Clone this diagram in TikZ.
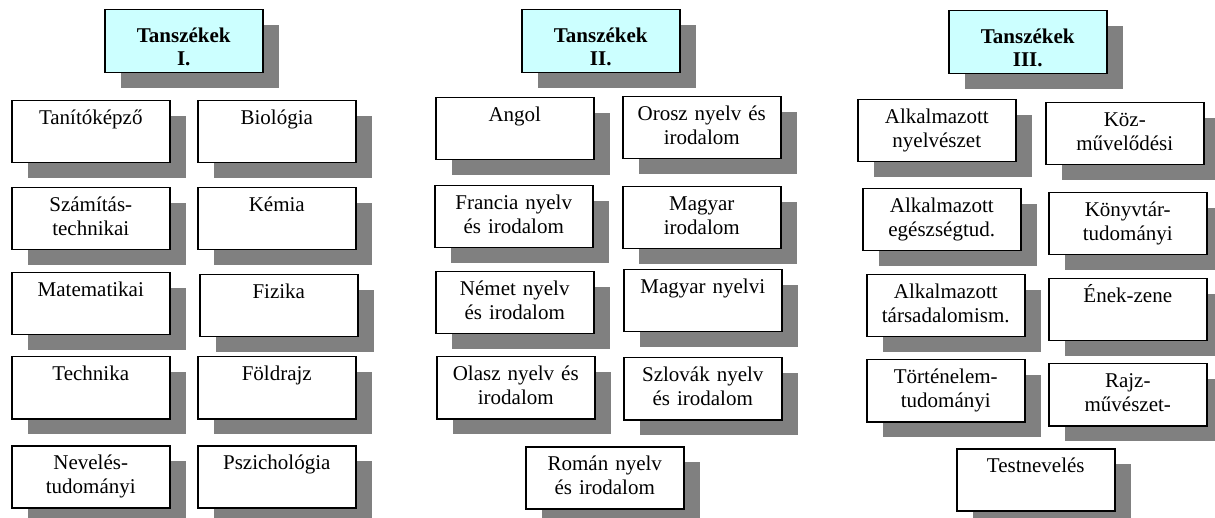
\documentclass[tikz,border=0pt]{standalone}
\usepackage{fontspec}
\setmainfont{Liberation Serif}
\usetikzlibrary{shadows}
\definecolor{headcyan}{RGB}{204,255,255}
\begin{document}
\begin{tikzpicture}[x=1pt,y=-1pt,
		every node/.style={font=\fontsize{21}{24}\selectfont},
		box/.style={draw,line width=1.5pt,fill=white,anchor=north west,inner sep=0pt,
				text width=158pt,align=center,text height=24pt,text depth=38pt,
				drop shadow={shadow xshift=16pt,shadow yshift=-15pt,fill=gray,opacity=1}},
		head/.style={box,fill=headcyan,font=\fontsize{21}{23}\selectfont\bfseries,
				text height=33pt,text depth=30pt}]
		\useasboundingbox[fill=white] (0,0) rectangle (1215,518);

		% Tanszekek I.
		\node[head] (T1) at (104,9) {Tanszékek\\I.};
		\foreach \x/\y/\n/\t in {11/100/tan/{Tanítóképző}, 197/100/bio/{Biológia},
				11/187/szam/{Számítás-\\technikai}, 197/187/kem/{Kémia},
				11/272/mat/{Matematikai}, 199/274/fiz/{Fizika},
				11/356/tech/{Technika}, 197/356/fold/{Földrajz},
				11/445/nev/{Nevelés-\\tudományi}, 197/445/psz/{Pszichológia}} {
				\node[box] (\n) at (\x,\y) {\t};
			}

		% Tanszekek II.
		\node[head] (T2) at (521,9) {Tanszékek\\II.};
		\foreach \x/\y/\n/\t in {435/97/ang/{Angol}, 622/96/oro/{Orosz nyelv és\\irodalom},
				434/185/fra/{Francia nyelv\\és irodalom}, 622/186/mir/{Magyar\\irodalom},
				435/271/nem/{Német nyelv\\és irodalom}, 623/269/mny/{Magyar nyelvi},
				436/356/ola/{Olasz nyelv és\\irodalom}, 623/357/szl/{Szlovák nyelv\\és irodalom},
				525/446/rom/{Román nyelv\\és irodalom}} {
				\node[box] (\n) at (\x,\y) {\t};
			}

		% Tanszekek III.
		\node[head] (T3) at (948,10) {Tanszékek\\III.};
		\foreach \x/\y/\n/\t in {857/99/anyv/{Alkalmazott\\nyelvészet}, 1045/102/koz/{Köz-\\művelődési},
				862/188/aeg/{Alkalmazott\\egészségtud.}, 1048/192/konyv/{Könyvtár-\\tudományi},
				866/274/atar/{Alkalmazott\\társadalomism.}, 1048/278/enek/{Ének-zene},
				866/359/tort/{Történelem-\\tudományi}, 1048/363/rajz/{Rajz-\\művészet-},
				956/448/test/{Testnevelés}} {
				\node[box] (\n) at (\x,\y) {\t};
			}
	\end{tikzpicture}
\end{document}
